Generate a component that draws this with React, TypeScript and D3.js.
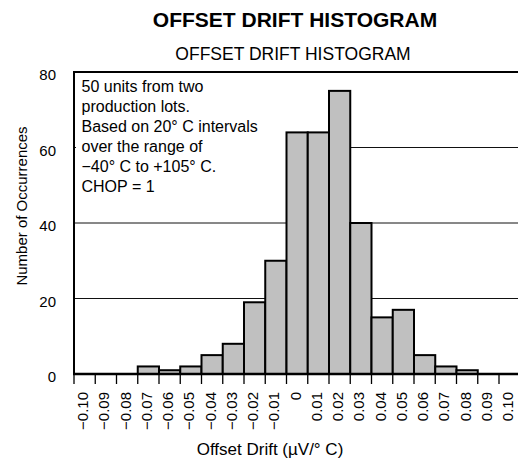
import { useMemo } from "react";
import * as d3 from "d3";

const binLabels = [
  "−0.10", "−0.09", "−0.08", "−0.07", "−0.06", "−0.05", "−0.04", "−0.03", "−0.02", "−0.01",
  "0", "0.01", "0.02", "0.03", "0.04", "0.05", "0.06", "0.07", "0.08", "0.09", "0.10",
];
const counts = [0, 0, 0, 2, 1, 2, 5, 8, 19, 30, 64, 64, 75, 40, 15, 17, 5, 2, 1, 0, 0];
const yTicks = [0, 20, 40, 60, 80];
const gridValues = [20, 40, 60];
const noteLines = [
  "50 units from two",
  "production lots.",
  "Based on 20° C intervals",
  "over the range of",
  "−40° C to +105° C.",
  "CHOP = 1",
];

const W = 518;
const H = 464;
const left = 74;
const top = 72;
const bottom = 374;
const slot = 21.25;
const font = "Liberation Sans, Arial, sans-serif";

export default function App() {
  const { x, y } = useMemo(() => {
    const x = d3
      .scaleBand<string>()
      .domain(binLabels)
      .range([left, left + slot * binLabels.length])
      .padding(0);
    const y = d3.scaleLinear().domain([0, 80]).range([bottom, top]);
    return { x, y };
  }, []);

  const bars = binLabels.map((label, i) => ({ label, value: counts[i] }));

  return (
    <div style={{ position: "absolute", left: 0, top: 0 }}>
      <svg width={W} height={H} style={{ display: "block", fontFamily: font }}>
        <rect width={W} height={H} fill="#fff" />
        <text x={295} y={27} textAnchor="middle" fontSize={21} fontWeight="bold">
          OFFSET DRIFT HISTOGRAM
        </text>
        <text x={293} y={60} textAnchor="middle" fontSize={17.5}>
          OFFSET DRIFT HISTOGRAM
        </text>

        {/* grid lines */}
        {gridValues.map((v) => (
          <line key={v} x1={left} x2={W} y1={y(v)} y2={y(v)} stroke="#111" strokeWidth={1} />
        ))}

        {/* annotation box hides the grid behind it */}
        <rect x={left + 2} y={top + 3} width={212} height={128} fill="#fff" />
        <text fontSize={16} fill="#000">
          {noteLines.map((line, i) => (
            <tspan key={i} x={81.5} y={92 + i * 19.9}>
              {line}
            </tspan>
          ))}
        </text>

        {/* bars */}
        {bars
          .filter((b) => b.value > 0)
          .map((b) => (
            <rect
              key={b.label}
              x={x(b.label) ?? 0}
              y={y(b.value)}
              width={x.bandwidth()}
              height={bottom - y(b.value)}
              fill="#c0c0c0"
              stroke="#000"
              strokeWidth={2}
            />
          ))}

        {/* frame */}
        <line x1={left} x2={W} y1={top} y2={top} stroke="#000" strokeWidth={2} />
        <line x1={left} x2={left} y1={top - 1} y2={bottom} stroke="#000" strokeWidth={2} />
        <line x1={left - 1} x2={W} y1={bottom} y2={bottom} stroke="#000" strokeWidth={2.5} />

        {/* y axis labels */}
        {yTicks.map((v) => (
          <text key={v} x={56} y={y(v) + 8} textAnchor="end" fontSize={15}>
            {v}
          </text>
        ))}
        <text
          transform={`translate(27, 206) rotate(-90)`}
          textAnchor="middle"
          fontSize={15}
        >
          Number of Occurrences
        </text>

        {/* x ticks at bin edges */}
        {binLabels.map((label) => (
          <line
            key={label}
            x1={x(label) ?? 0}
            x2={x(label) ?? 0}
            y1={bottom}
            y2={bottom + 10}
            stroke="#000"
            strokeWidth={1.3}
          />
        ))}
        {binLabels.map((label) => {
          const cx = (x(label) ?? 0) + x.bandwidth() / 2;
          return (
            <text
              key={label}
              transform={`translate(${cx + 3.5}, 392) rotate(-90)`}
              textAnchor="end"
              fontSize={15}
            >
              {label}
            </text>
          );
        })}
        <text x={270} y={455} textAnchor="middle" fontSize={17}>
          Offset Drift (µV/° C)
        </text>
      </svg>
    </div>
  );
}
